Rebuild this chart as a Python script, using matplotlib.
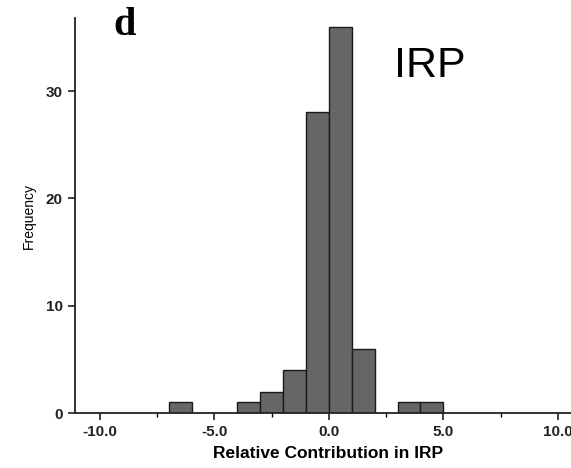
import numpy as np
import matplotlib.pyplot as plt
from matplotlib.ticker import MultipleLocator

plt.rcParams['font.family'] = ['Liberation Sans', 'DejaVu Sans']

# histogram bins (left edges, width 1) and counts
bin_left = [-7, -4, -3, -2, -1, 0, 1, 3, 4]
counts = [1, 1, 2, 4, 28, 36, 6, 1, 1]
x_ticks = [-10.0, -5.0, 0.0, 5.0, 10.0]
y_ticks = [0, 10, 20, 30]

fig = plt.figure(figsize=(5.71, 4.68), dpi=100)
ax = fig.add_axes([0.131, 0.1175, 0.886, 0.844])

ax.bar(bin_left, counts, width=1.0, align='edge', color='#666666',
       edgecolor='#1a1a1a', linewidth=1.0)

ax.set_xlim(-11.1, 11.0)
ax.set_ylim(0, 36.8)
ax.set_xticks(x_ticks)
ax.set_xticklabels([f"{v:.1f}" for v in x_ticks])
ax.xaxis.set_minor_locator(MultipleLocator(2.5))
ax.set_yticks(y_ticks)

for s in ['top', 'right']:
    ax.spines[s].set_visible(False)
for s in ['left', 'bottom']:
    ax.spines[s].set_linewidth(1.3)
    ax.spines[s].set_color('#222222')

ax.tick_params(axis='both', which='major', direction='out', length=5, width=1.2,
               labelsize=11, colors='#222222')
ax.tick_params(axis='x', which='minor', direction='out', length=3, width=1.0)
for lab in ax.get_xticklabels() + ax.get_yticklabels():
    lab.set_fontweight('bold')

ax.set_xlabel('Relative Contribution in IRP', fontsize=12.5, fontweight='bold', labelpad=5)
ax.set_ylabel('Frequency', fontsize=10, labelpad=7)

fig.text(0.219, 0.946, 'd', fontsize=29, fontweight='bold', family='Liberation Serif',
         ha='center', va='center')
fig.text(0.69, 0.858, 'IRP', fontsize=31, ha='left', va='center')

plt.savefig('out.png', dpi=100)
